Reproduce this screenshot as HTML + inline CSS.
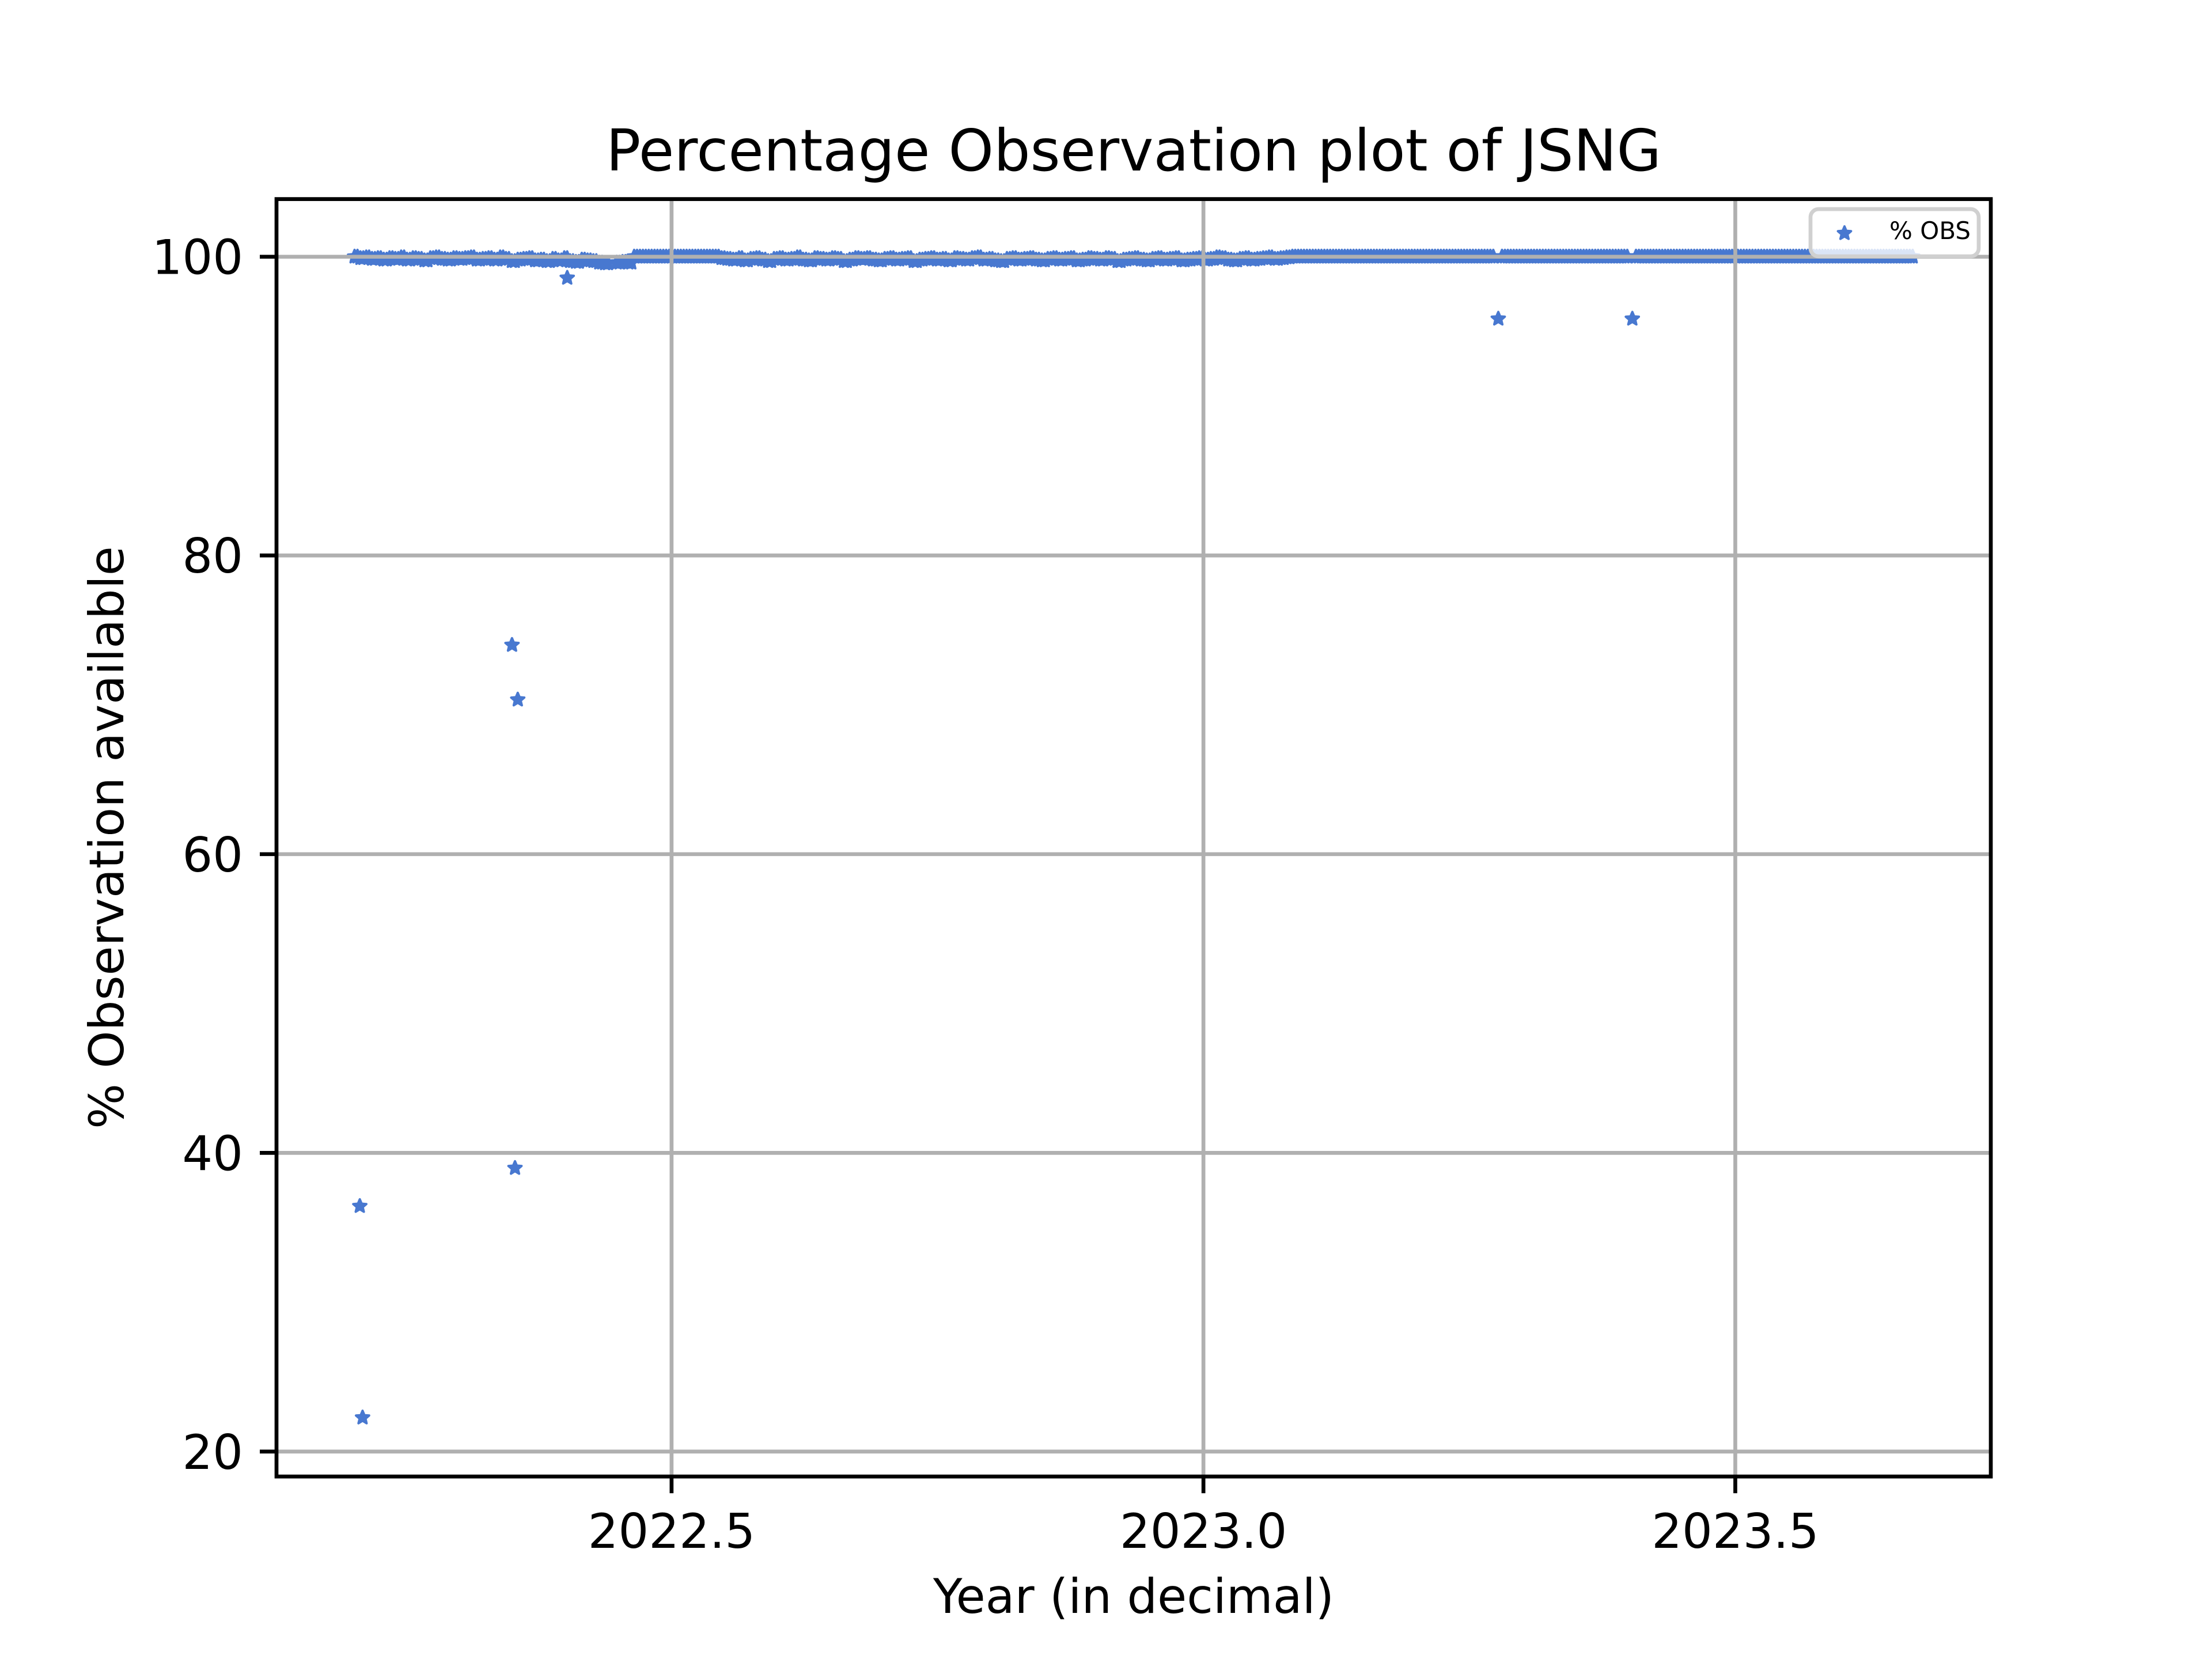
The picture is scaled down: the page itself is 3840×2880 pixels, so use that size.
<!DOCTYPE html>
<html><head><meta charset="utf-8"><style>
html,body{margin:0;padding:0;background:#fff}
svg{display:block}
text{font-family:"DejaVu Sans","Liberation Sans",sans-serif;fill:#000}
</style></head><body>
<svg id="chart" width="3840" height="2880" viewBox="0 0 3840 2880" xmlns="http://www.w3.org/2000/svg">
<rect width="3840" height="2880" fill="#fff"/>
<text x="1968" y="296" font-size="100" text-anchor="middle">Percentage Observation plot of JSNG</text>
<g id="points"></g>
<g id="grid"></g>
<rect x="480" y="345.6" width="2976" height="2217.6" fill="none" stroke="#000" stroke-width="6.7"/>
<g id="xticks"></g>
<g id="yticks"></g>
<text x="1968" y="2800" font-size="83" text-anchor="middle">Year (in decimal)</text>
<text transform="translate(214,1454) rotate(-90)" font-size="83" text-anchor="middle">% Observation available</text>
<g>
<rect x="3143" y="363" width="292" height="82" rx="14" fill="#fff" fill-opacity="0.8" stroke="#d0d0d0" stroke-width="6.7"/>
<path id="legstar" fill="#4878d0" stroke="#4878d0" stroke-width="4" stroke-linejoin="round"/>
<text x="3280" y="415" font-size="42">% OBS</text>
</g>
</svg>
<script>
const startYear = 2022.202;
const stepDays = 2;
const denseValues = [
100,99.9,99.95,99.85,99.9,99.8,99.9,99.85,99.95,99.8,99.9,99.85,99.75,99.9,99.95,99.85,99.8,99.9,99.85,99.9,99.95,99.8,99.85,99.9,99.8,99.95,99.85,99.7,
99.8,99.85,99.9,99.75,99.8,99.7,99.85,99.75,99.9,99.7,99.65,99.8,99.75,99.7,99.6,
99.55,null,99.6,99.65,99.6,
100,100,100,100,100,100,100,100,100,100,100,100,100,100,100,
99.9,99.85,99.8,99.9,99.75,99.85,99.9,99.8,99.7,99.85,
99.9,99.8,99.85,99.95,99.8,99.75,99.9,99.85,99.8,99.9,
99.85,99.7,99.8,99.9,99.85,99.9,99.8,99.75,99.85,99.9,
99.8,99.85,99.9,99.7,99.8,99.85,99.9,99.8,99.85,99.75,
99.9,99.85,99.8,99.9,99.95,99.8,99.85,99.75,99.7,99.85,
99.9,99.8,99.85,99.9,99.8,99.75,99.85,99.9,99.8,99.85,
99.9,99.75,99.8,99.9,99.85,99.8,99.9,99.85,99.7,99.8,
99.85,99.9,99.8,99.75,99.85,99.9,99.8,99.85,99.9,99.75,
99.8,99.85,99.9,99.8,99.85,99.95,99.9,99.8,99.75,99.85,
99.9,99.8,99.85,99.9,99.95,99.85,99.9,99.95,100,
100,100,100,100,100,100,100,100,100,100,100,100,100,100,100,100,100,100,100,100,
100,100,100,100,100,100,100,100,100,100,100,100,100,100,null,100,100,100,100,100,
100,100,100,100,100,100,100,100,100,100,100,100,100,100,100,100,100,null,100,100,
100,100,100,100,100,100,100,100,100,100,100,100,100,100,100,100,100,100,100,100,
100,100,100,100,100,100,100,100,100,100,100,100,100,100,100,100,100,100,100,100,
100,100,100,100,100,100
];
const outlierYears = [2022.2069,2022.2095,2022.350,2022.3554,2022.3528,2022.4019,2023.2772,2023.4032];
const outlierValues = [36.43,22.27,74.0,70.34,38.98,98.58,95.84,95.84];
const xTicks = [2022.5,2023.0,2023.5];
const xTickLabels = ["2022.5","2023.0","2023.5"];
const yTicks = [20,40,60,80,100];
const yTickLabels = ["20","40","60","80","100"];

const X0=480,X1=3456,Y0=345.6,Y1=2563.2;
const xMin=2022.1286,xMax=2023.7402,yMin=18.33,yMax=103.86;
function xs(v){return X0+(v-xMin)/(xMax-xMin)*(X1-X0);}
function ys(v){return Y0+(yMax-v)/(yMax-yMin)*(Y1-Y0);}
const NS="http://www.w3.org/2000/svg";
function star(cx,cy,r){
  let d="";
  for(let k=0;k<10;k++){
    const rr=k%2?r*0.45:r;
    const a=-Math.PI/2+k*Math.PI/5;
    d+=(k?"L":"M")+(cx+rr*Math.cos(a)).toFixed(1)+","+(cy+rr*Math.sin(a)).toFixed(1);
  }
  return d+"Z";
}
const pts=document.getElementById('points');
function addStar(cx,cy,name){
  const p=document.createElementNS(NS,'path');
  p.setAttribute('d',star(cx,cy,12));
  p.setAttribute('fill','#4878d0');
  p.setAttribute('stroke','#4878d0');
  p.setAttribute('stroke-width','4');
  p.setAttribute('stroke-linejoin','round');
  
  
  pts.appendChild(p);
}
denseValues.forEach((v,i)=>{
  if(v===null)return;
  const yr=startYear+i*stepDays/365.25;
  addStar(xs(yr),ys(v),'obs-point');
  addStar(xs(yr+1/365.25),ys(v),'obs-point');
});
outlierYears.forEach((yr,i)=>{
  addStar(xs(yr),ys(outlierValues[i]),'obs-outlier-point');
});
const grid=document.getElementById('grid');
const xt=document.getElementById('xticks');
const yt=document.getElementById('yticks');
xTicks.forEach((t,i)=>{
  const x=xs(t);
  const g=document.createElementNS(NS,'line');
  g.setAttribute('x1',x);g.setAttribute('x2',x);g.setAttribute('y1',Y0);g.setAttribute('y2',Y1);
  g.setAttribute('stroke','#b0b0b0');g.setAttribute('stroke-width','6.7');
  
  
  grid.appendChild(g);
  const tk=document.createElementNS(NS,'line');
  tk.setAttribute('x1',x);tk.setAttribute('x2',x);tk.setAttribute('y1',Y1);tk.setAttribute('y2',Y1+29);
  tk.setAttribute('stroke','#000');tk.setAttribute('stroke-width','6.7');
  
  
  xt.appendChild(tk);
  const tx=document.createElementNS(NS,'text');
  tx.setAttribute('x',x);tx.setAttribute('y',2687);tx.setAttribute('font-size','83');tx.setAttribute('text-anchor','middle');
  tx.textContent=xTickLabels[i];
  
  
  xt.appendChild(tx);
});
yTicks.forEach((t,i)=>{
  const y=ys(t);
  const g=document.createElementNS(NS,'line');
  g.setAttribute('x1',X0);g.setAttribute('x2',X1);g.setAttribute('y1',y);g.setAttribute('y2',y);
  g.setAttribute('stroke','#b0b0b0');g.setAttribute('stroke-width','6.7');
  
  
  grid.appendChild(g);
  const tk=document.createElementNS(NS,'line');
  tk.setAttribute('x1',X0-29);tk.setAttribute('x2',X0);tk.setAttribute('y1',y);tk.setAttribute('y2',y);
  tk.setAttribute('stroke','#000');tk.setAttribute('stroke-width','6.7');
  
  
  yt.appendChild(tk);
  const tx=document.createElementNS(NS,'text');
  tx.setAttribute('x',422);tx.setAttribute('y',y+30);tx.setAttribute('font-size','83');tx.setAttribute('text-anchor','end');
  tx.textContent=yTickLabels[i];
  
  
  yt.appendChild(tx);
});
document.getElementById('legstar').setAttribute('d',star(3202,405,12));
</script>
</body></html>
